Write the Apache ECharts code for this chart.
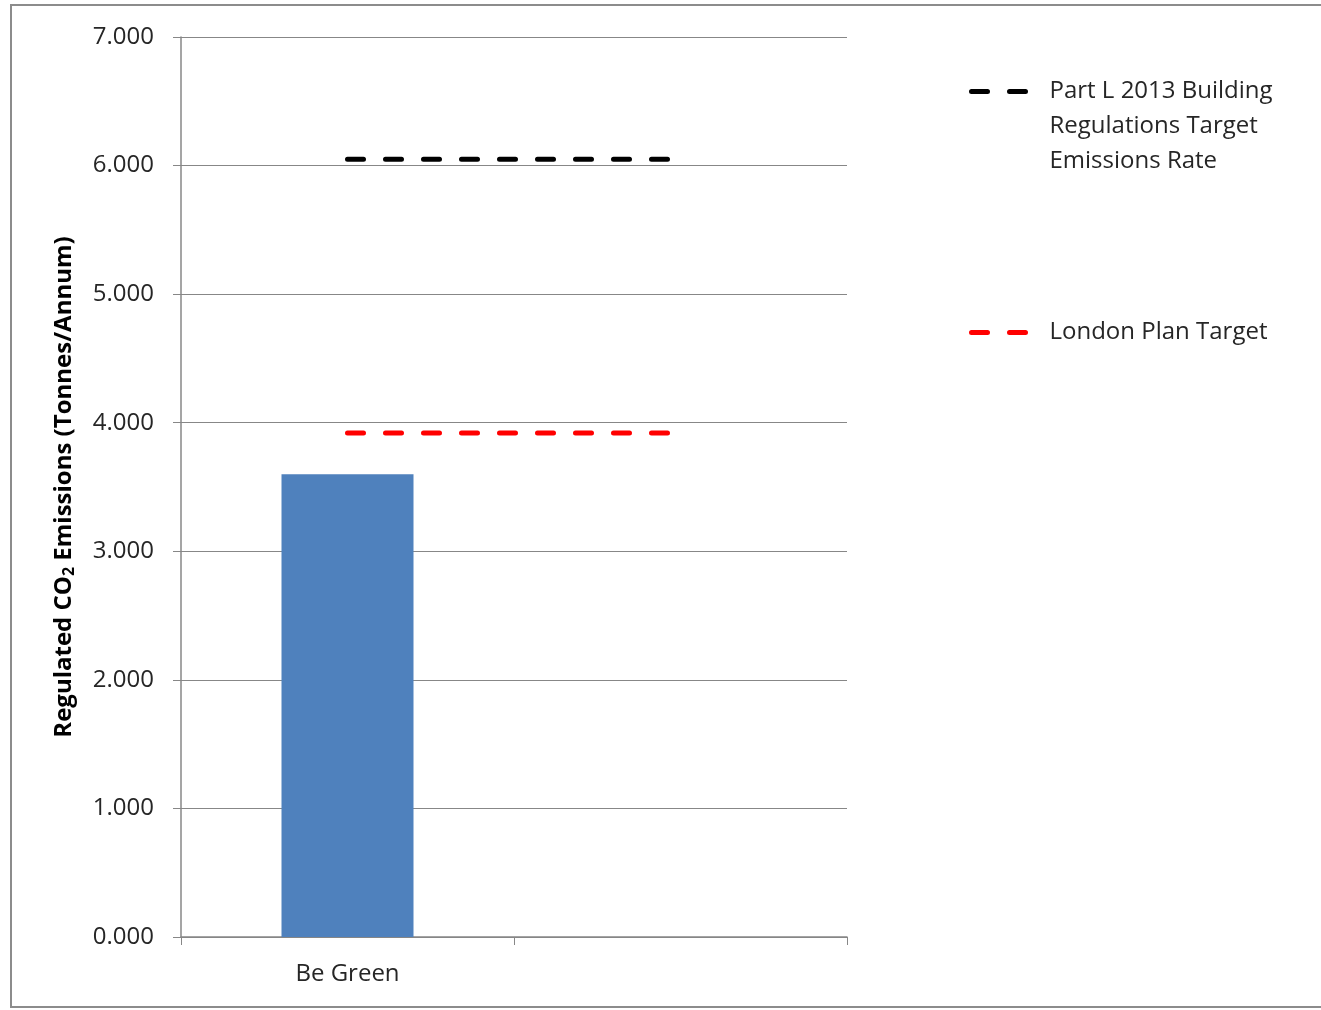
<!DOCTYPE html>
<html>
<head>
<meta charset="utf-8">
<script src="https://cdn.jsdelivr.net/npm/echarts@6/dist/echarts.min.js"></script>
<style>
  html, body { margin: 0; padding: 0; background: #fff; }
  #chart { width: 1321px; height: 1010px; }
</style>
</head>
<body>
<div id="chart"></div>
<script>
// Categories along the x axis (second slot is left empty)
const categories = ['Be Green', ''];
// Regulated CO2 emissions, tonnes per annum
const beGreen = [3.60, null];
// Target levels, drawn as flat dashed lines across the categories
const partLTarget = [6.05, 6.05];
const londonPlanTarget = [3.92, 3.92];
// Y axis range
const yMin = 0, yMax = 7, yStep = 1;

const partLName = 'Part L 2013 Building Regulations Target Emissions Rate';
const londonName = 'London Plan Target';

const FONT = 'Open Sans';
const FS = 24;
const TEXT = '#262626';
const GREY = '#878787';
const dash = [16, 22];

// Shared legend look: dashed line icon only, no marker
const legendBase = {
  padding: 0,
  itemWidth: 60, itemHeight: 14,
  itemStyle: { opacity: 0 },
  lineStyle: { width: 5, type: dash, cap: 'round' },
  textStyle: { color: TEXT, fontSize: FS, lineHeight: 35, padding: [0, 0, 0, 13], fontFamily: FONT }
};

const chart = echarts.init(document.getElementById('chart'));
chart.setOption({
  animation: false,
  textStyle: { fontFamily: FONT },
  graphic: [{
    type: 'rect',
    shape: { x: 11, y: 5, width: 1330, height: 1002 },
    style: { fill: 'none', stroke: '#8c8c8c', lineWidth: 2 },
    silent: true
  }],
  grid: { left: 181, right: 474, top: 37, bottom: 73 },
  legend: [Object.assign({}, legendBase, {
    data: [partLName],
    left: 969, top: 4,
    // two blank lines above keep the icon level with the first text line
    formatter: () => ' \n \nPart L 2013 Building\nRegulations Target\nEmissions Rate'
  }), Object.assign({}, legendBase, {
    data: [londonName],
    left: 969, top: 315
  })],
  xAxis: {
    type: 'category',
    data: categories,
    boundaryGap: true,
    axisLine: { lineStyle: { color: GREY, width: 1.5 } },
    axisTick: { show: true, length: 8, lineStyle: { color: GREY } },
    axisLabel: { color: TEXT, fontSize: FS, margin: 25, fontFamily: FONT }
  },
  yAxis: {
    type: 'value',
    min: yMin, max: yMax, interval: yStep,
    name: '{t|Regulated CO}{s|2}{t| Emissions (Tonnes/Annum)}',
    nameLocation: 'middle',
    nameGap: 104,
    nameRotate: 90,
    nameTextStyle: {
      rich: {
        t: { fontSize: FS, fontWeight: 'bold', color: '#000', fontFamily: FONT },
        s: { fontSize: 16, fontWeight: 'bold', color: '#000', fontFamily: FONT, verticalAlign: 'bottom', padding: [10, 0, 0, 0] }
      }
    },
    axisLine: { show: true, lineStyle: { color: GREY, width: 1.5 } },
    axisTick: { show: true, length: 8, lineStyle: { color: GREY } },
    axisLabel: { color: TEXT, fontSize: FS, margin: 27, fontFamily: FONT, formatter: v => v.toFixed(3) },
    splitLine: { lineStyle: { color: GREY, width: 1.2 } }
  },
  series: [{
    name: 'Be Green',
    type: 'bar',
    data: beGreen,
    barWidth: 132,
    itemStyle: { color: '#4F81BD' }
  }, {
    name: partLName,
    type: 'line',
    data: partLTarget,
    symbol: 'none',
    itemStyle: { color: '#000000' },
    lineStyle: { color: '#000000', width: 5, type: dash, cap: 'round' }
  }, {
    name: londonName,
    type: 'line',
    data: londonPlanTarget,
    symbol: 'none',
    itemStyle: { color: '#FF0000' },
    lineStyle: { color: '#FF0000', width: 5, type: dash, cap: 'round' }
  }]
});
</script>
</body>
</html>
